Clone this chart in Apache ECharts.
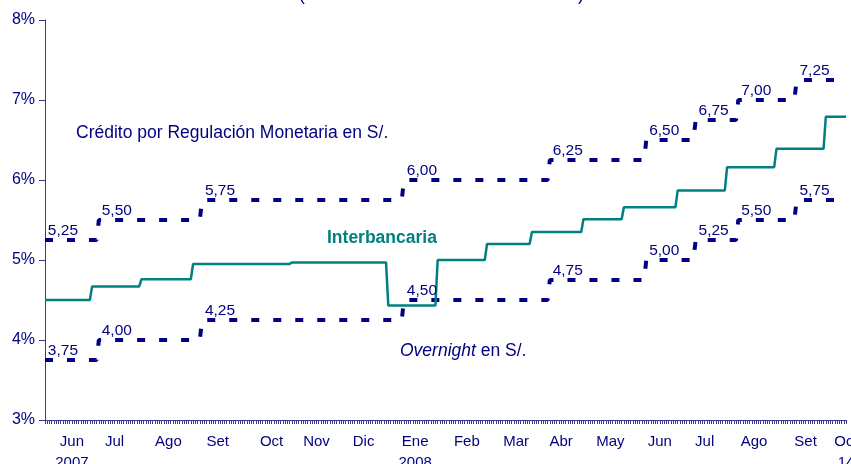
<!DOCTYPE html>
<html>
<head>
<meta charset="utf-8">
<script src="https://cdn.jsdelivr.net/npm/echarts@6/dist/echarts.min.js"></script>
<style>
html, body { margin: 0; padding: 0; background: #fff; }
#main { width: 851px; height: 464px; }
</style>
</head>
<body>
<div id="main"></div>
<script>
// rango de días hábiles mostrados
const firstDay = '2007-06-01';
const lastDay = '2008-10-14';

// Crédito por Regulación Monetaria (tasa vigente desde cada fecha)
const creditDates = ['2007-06-01', '2007-07-05', '2007-09-07', '2008-01-11', '2008-04-11', '2008-06-11', '2008-07-11', '2008-08-07', '2008-09-12'];
const creditValues = [5.25, 5.50, 5.75, 6.00, 6.25, 6.50, 6.75, 7.00, 7.25];

// Overnight
const overnightDates = ['2007-06-01', '2007-07-05', '2007-09-07', '2008-01-11', '2008-04-11', '2008-06-11', '2008-07-11', '2008-08-07', '2008-09-12'];
const overnightValues = [3.75, 4.00, 4.25, 4.50, 4.75, 5.00, 5.25, 5.50, 5.75];

// Interbancaria
const interbankDates = ['2007-06-01', '2007-07-02', '2007-08-01', '2007-09-03', '2007-11-02', '2008-01-02', '2008-02-01', '2008-03-04', '2008-04-01', '2008-05-02', '2008-05-28', '2008-07-01', '2008-07-31', '2008-09-01', '2008-10-01'];
const interbankValues = [4.50, 4.67, 4.76, 4.95, 4.97, 4.43, 5.00, 5.20, 5.35, 5.51, 5.66, 5.87, 6.16, 6.39, 6.79];

// etiquetas del eje x
const tickLabelDates = ['2007-06-19', '2007-07-16', '2007-08-17', '2007-09-18', '2007-10-22', '2007-11-19', '2007-12-18', '2008-01-18', '2008-02-20', '2008-03-21', '2008-04-18', '2008-05-20', '2008-06-19', '2008-07-17', '2008-08-18', '2008-09-18', '2008-10-14'];
const tickLabelTexts = ['Jun\n2007', 'Jul', 'Ago', 'Set', 'Oct', 'Nov', 'Dic', 'Ene\n2008', 'Feb', 'Mar', 'Abr', 'May', 'Jun', 'Jul', 'Ago', 'Set', 'Oct\n14'];

const NAVY = '#000080';
const TEAL = '#008080';
const FONT = '"Liberation Sans", Arial, sans-serif';

// días hábiles (lun-vie)
const days = [];
for (let d = new Date(firstDay + 'T00:00:00Z'); d <= new Date(lastDay + 'T00:00:00Z'); d.setUTCDate(d.getUTCDate() + 1)) {
    const wd = d.getUTCDay();
    if (wd !== 0 && wd !== 6) days.push(d.toISOString().slice(0, 10));
}

function stepSeries(dates, values) {
    let k = 0;
    return days.map(day => {
        while (k + 1 < dates.length && dates[k + 1] <= day) k++;
        return values[k];
    });
}

const fmt = v => v.toFixed(2).replace('.', ',');

// etiqueta un poco a la derecha de cada cambio de tasa
function levelLabels(dates, values) {
    return dates.map((d, i) => {
        let idx = days.findIndex(x => x >= d);
        return { coord: [days[Math.min(idx + 8, days.length - 1)], values[i]], value: values[i] };
    });
}

function markLabels(dates, values) {
    return {
        symbol: 'rect',
        symbolSize: 1,
        silent: true,
        animation: false,
        itemStyle: { color: 'rgba(0,0,0,0)' },
        label: {
            show: true,
            position: 'top',
            distance: 1,
            color: NAVY,
            fontFamily: FONT,
            fontSize: 15.5,
            formatter: p => fmt(p.value)
        },
        data: levelLabels(dates, values)
    };
}

const dashStyle = { color: NAVY, width: 4, type: [8, 14], cap: 'butt' };

const myChart = echarts.init(document.getElementById('main'));
const option = {
    animation: false,
    grid: { left: 45, right: 5, top: 20, bottom: 44, containLabel: false, outerBoundsMode: 'none' },
    xAxis: {
        type: 'category',
        data: days,
        boundaryGap: false,
        axisLine: { lineStyle: { color: '#3a3a95', width: 1 } },
        axisTick: { interval: 0, length: 4, lineStyle: { color: '#3a3a95' } },
        axisLabel: {
            interval: (i, v) => tickLabelDates.includes(v),
            formatter: v => {
                const k = tickLabelDates.indexOf(v);
                return k < 0 ? '' : tickLabelTexts[k];
            },
            color: NAVY,
            fontFamily: FONT,
            fontSize: 15,
            lineHeight: 21,
            margin: 11,
            hideOverlap: false
        }
    },
    yAxis: {
        type: 'value',
        min: 3,
        max: 8,
        interval: 1,
        splitLine: { show: false },
        axisLine: { show: true, lineStyle: { color: '#3a3a95', width: 1 } },
        axisTick: { show: true, length: 6, lineStyle: { color: '#3a3a95' } },
        axisLabel: {
            formatter: '{value}%',
            color: NAVY,
            fontFamily: FONT,
            fontSize: 16,
            margin: 10
        }
    },
    series: [
        {
            name: 'Crédito por Regulación Monetaria',
            type: 'line',
            data: stepSeries(creditDates, creditValues),
            showSymbol: false,
            symbol: 'none',
            lineStyle: dashStyle,
            markPoint: markLabels(creditDates, creditValues)
        },
        {
            name: 'Overnight',
            type: 'line',
            data: stepSeries(overnightDates, overnightValues),
            showSymbol: false,
            symbol: 'none',
            lineStyle: dashStyle,
            markPoint: markLabels(overnightDates, overnightValues)
        },
        {
            name: 'Interbancaria',
            type: 'line',
            data: stepSeries(interbankDates, interbankValues),
            showSymbol: false,
            symbol: 'none',
            z: 3,
            lineStyle: { color: TEAL, width: 2.5 }
        }
    ],
    graphic: [
        { type: 'text', left: 299, top: -14, style: { text: '(', fill: NAVY, font: '17.5px ' + FONT } },
        { type: 'text', left: 578, top: -14, style: { text: ')', fill: NAVY, font: '17.5px ' + FONT } },
        { type: 'text', left: 76, top: 124, style: { text: 'Crédito por Regulación Monetaria en S/.', fill: NAVY, font: '17.5px ' + FONT } },
        { type: 'text', left: 327, top: 229, style: { text: 'Interbancaria', fill: TEAL, font: 'bold 17.5px ' + FONT } },
        {
            type: 'text', left: 400, top: 342,
            style: {
                text: '{i|Overnight} en S/.',
                fill: NAVY,
                font: '17.5px ' + FONT,
                rich: { i: { fontStyle: 'italic', fontSize: 17.5, fontFamily: FONT, fill: NAVY } }
            }
        }
    ]
};
myChart.setOption(option);
</script>
</body>
</html>
